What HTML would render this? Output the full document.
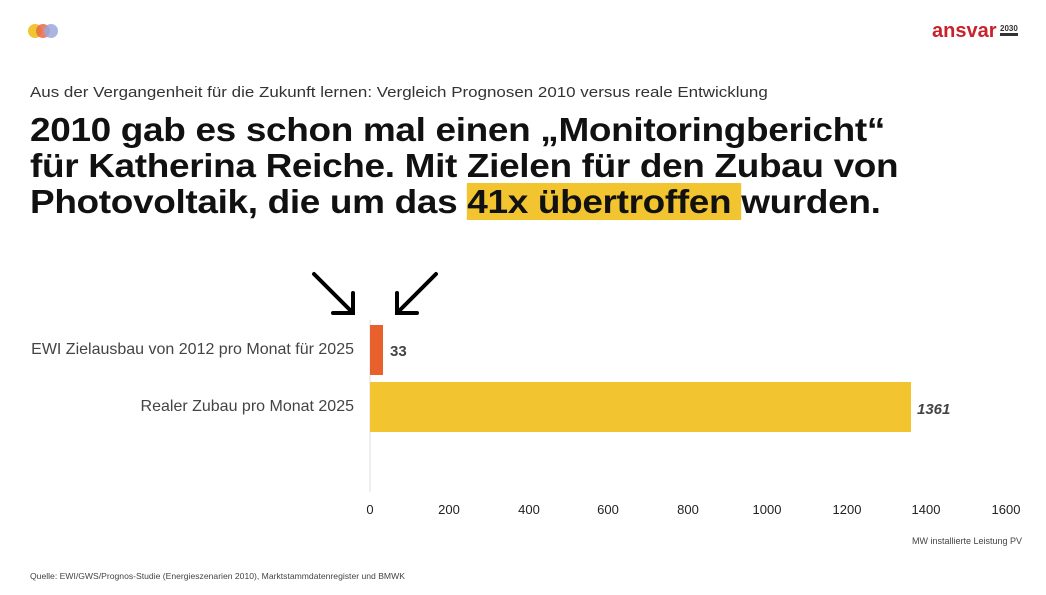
<!DOCTYPE html>
<html><head><meta charset="utf-8"><style>
body{margin:0;width:1046px;height:595px;background:#fff;position:relative;overflow:hidden;font-family:"Liberation Sans",sans-serif;}
.a{position:absolute;white-space:nowrap;}
.t{font-weight:bold;font-size:33px;color:#111;letter-spacing:-0.3px;line-height:36px;transform:scaleX(1.12);transform-origin:0 0;}
.hl{background:#f2c530;}
.lbl{font-size:16px;color:#444;}
.tick{font-size:13px;color:#222;width:60px;text-align:center;}
</style></head><body>
<div class="a" style="left:28px;top:24px;width:14px;height:14px;border-radius:50%;background:#f2c530"></div>
<div class="a" style="left:36px;top:24px;width:14px;height:14px;border-radius:50%;background:#e86a4a;opacity:.85"></div>
<div class="a" style="left:44px;top:24px;width:14px;height:14px;border-radius:50%;background:#9aa8dd;opacity:.85"></div>
<div class="a" style="left:932px;top:20px;font-size:20px;font-weight:bold;color:#c8222b;">ansvar</div>
<div class="a" style="left:1000px;top:24px;font-size:8px;font-weight:bold;color:#333;border-bottom:3px solid #333;line-height:9px">2030</div>
<div class="a" style="left:30px;top:84px;font-size:15px;color:#333;transform:scaleX(1.13);transform-origin:0 0;">Aus der Vergangenheit für die Zukunft lernen: Vergleich Prognosen 2010 versus reale Entwicklung</div>
<div class="a t" style="left:30px;top:112px;">2010 gab es schon mal einen „Monitoringbericht“<br>für Katherina Reiche. Mit Zielen für den Zubau von<br>Photovoltaik, die um das <span class="hl">41x übertroffen </span>wurden.</div>
<svg class="a" style="left:0;top:0" width="1046" height="595">
<g stroke="#000" stroke-width="4" fill="none" stroke-linecap="round">
<path d="M314 274 L353 313 M353 293 L353 313 L333 313"/>
<path d="M436 274 L397 313 M397 293 L397 313 L417 313"/>
</g>
<line x1="370" y1="320" x2="370" y2="492" stroke="#ddd"/>
<rect x="370" y="325" width="13" height="50" fill="#e8612c"/>
<rect x="370" y="382" width="541" height="50" fill="#f2c530"/>
</svg>
<div class="a lbl" style="right:692px;top:341px;">EWI Zielausbau von 2012 pro Monat für 2025</div>
<div class="a lbl" style="right:692px;top:398px;">Realer Zubau pro Monat 2025</div>
<div class="a" style="left:390px;top:343px;font-size:15px;font-weight:bold;color:#444;">33</div>
<div class="a" style="left:917px;top:401px;font-size:15px;font-weight:bold;font-style:italic;color:#444;">1361</div>
<div class="a tick" style="left:340px;top:502px">0</div>
<div class="a tick" style="left:419px;top:502px">200</div>
<div class="a tick" style="left:499px;top:502px">400</div>
<div class="a tick" style="left:578px;top:502px">600</div>
<div class="a tick" style="left:658px;top:502px">800</div>
<div class="a tick" style="left:737px;top:502px">1000</div>
<div class="a tick" style="left:817px;top:502px">1200</div>
<div class="a tick" style="left:896px;top:502px">1400</div>
<div class="a tick" style="left:976px;top:502px">1600</div>
<div class="a" style="right:24px;top:536px;font-size:9px;color:#444;">MW installierte Leistung PV</div>
<div class="a" style="left:30px;top:571px;font-size:8.6px;color:#444;">Quelle: EWI/GWS/Prognos-Studie (Energieszenarien 2010), Marktstammdatenregister und BMWK</div>
</body></html>
